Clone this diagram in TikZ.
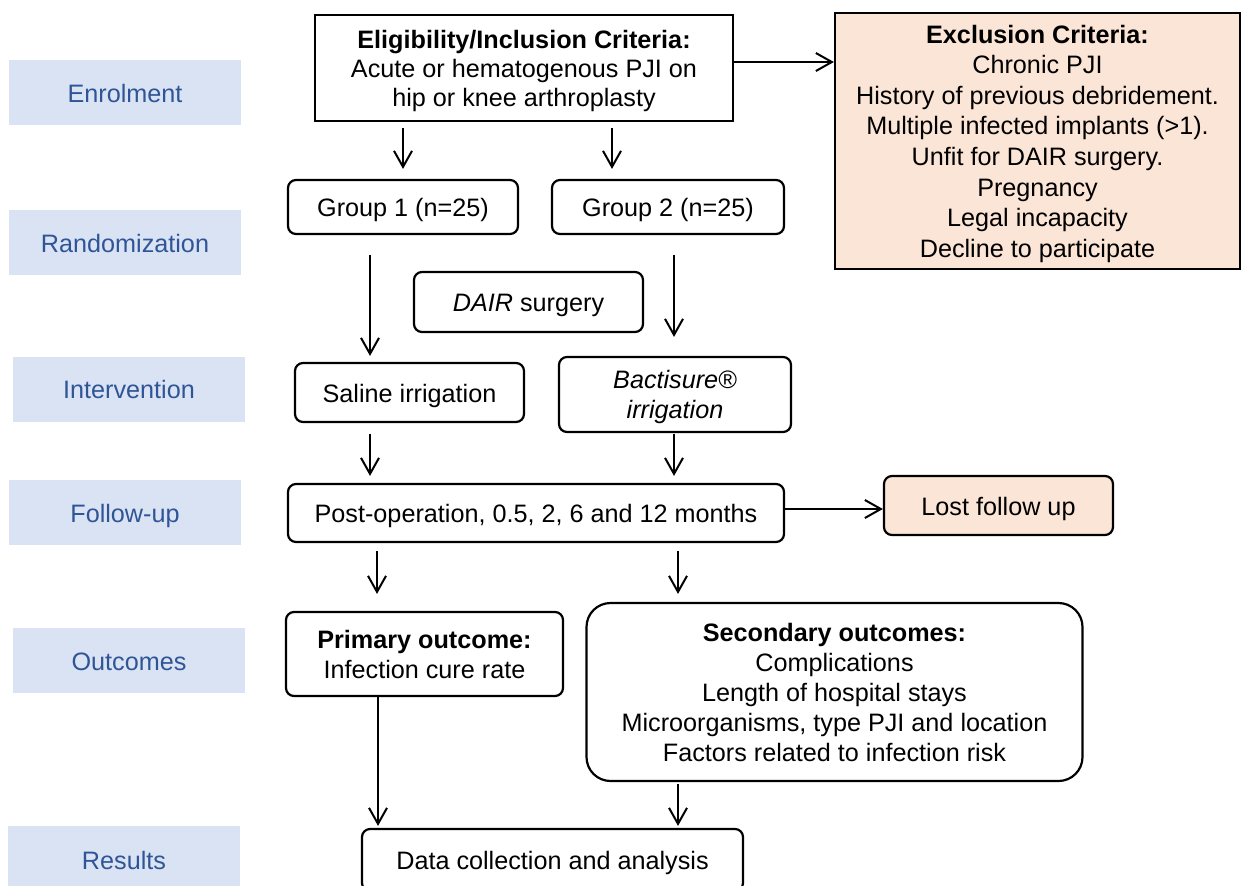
\documentclass[tikz,border=0pt]{standalone}
\usepackage{fontspec}
\setmainfont{Liberation Sans}
\usepackage{xcolor}
\usetikzlibrary{arrows.meta}
\usetikzlibrary{calc}
\definecolor{peach}{HTML}{FBE5D6}
\definecolor{phasefill}{HTML}{DAE3F3}
\definecolor{phasetext}{HTML}{2F5597}
\tikzset{>={Straight Barb[length=8pt,width=9pt]}}
\tikzset{
  box/.style={draw, line width=1.1pt, align=center, inner sep=2pt,
    font=\fontsize{12.6}{15}\selectfont},
  rbox/.style={box, rounded corners=4pt},
  oneline/.style={text height=12pt, text depth=2.5pt},
  phase/.style={fill=phasefill, text=phasetext, inner sep=0pt, oneline,
    minimum width=116pt, minimum height=32.5pt,
    font=\fontsize{12.6}{15}\selectfont},
  arr/.style={->, line width=1pt}
}
\begin{document}
\begin{tikzpicture}[x=0.5pt, y=-0.5pt]
      \useasboundingbox (0,0) rectangle (1242,885);
      \node[phase] (enr) at (125,92.5) {Enrolment};
      \node[phase] (rnd) at (125,242.5) {Randomization};
      \node[phase] (itv) at (129,389) {Intervention};
      \node[phase] (fol) at (125,512.5) {Follow-up};
      \node[phase] (outc) at (129,660.5) {Outcomes};
      \node[phase, minimum height=34pt] (res) at (124,860) {Results};
      \node[box, minimum width=209pt, minimum height=53pt, text depth=-3pt,
        font=\fontsize{12.6}{14.5}\selectfont] (elig) at (524,68)
        {\textbf{Eligibility/Inclusion Criteria:}\\Acute or hematogenous PJI on\\hip or knee arthroplasty};
      \node[box, fill=peach, minimum width=202.5pt, minimum height=128pt, text depth=-0.4pt,
        font=\fontsize{12.6}{15.3}\selectfont] (excl) at (1037.5,141)
        {\textbf{Exclusion Criteria:}\\Chronic PJI\\History of previous debridement.\\Multiple infected implants (>1).\\Unfit for DAIR surgery.\\Pregnancy\\Legal incapacity\\Decline to participate};
      \node[rbox, oneline, minimum width=115pt, minimum height=27pt] (g1) at (403,207) {Group 1 (n=25)};
      \node[rbox, oneline, minimum width=116pt, minimum height=27pt] (g2) at (668,207) {Group 2 (n=25)};
      \node[rbox, oneline, minimum width=114.5pt, minimum height=30pt] (dair) at (528.5,302) {\textit{DAIR} surgery};
      \node[rbox, oneline, minimum width=114.5pt, minimum height=29.5pt] (sal) at (409.5,392.5) {Saline irrigation};
      \node[rbox, minimum width=116pt, minimum height=37.5pt, text depth=0pt] (bac) at (675,394.5) {\textit{Bactisure®}\\\textit{irrigation}};
      \node[rbox, oneline, minimum width=248pt, minimum height=29pt] (post) at (536,513) {Post-operation, 0.5, 2, 6 and 12 months};
      \node[rbox, oneline, fill=peach, minimum width=114.5pt, minimum height=29.5pt] (lost) at (998.5,505.5) {Lost follow up};
      \node[rbox, minimum width=138.5pt, minimum height=42pt] (prim) at (424.5,654)
        {\textbf{Primary outcome:}\\Infection cure rate};
      \node[box, rounded corners=12pt, minimum width=248pt, minimum height=89pt] (sec) at (834.5,692)
        {\textbf{Secondary outcomes:}\\Complications\\Length of hospital stays\\Microorganisms, type PJI and location\\Factors related to infection risk};
      \node[rbox, oneline, minimum width=190.5pt, minimum height=31pt] (data) at (552.5,860) {Data collection and analysis};
      \draw[arr] ($(elig.east)+(0,-6)$) -- ($(elig.east -| excl.west)+(0,-6)$);
      \draw[arr] ($(g1.north |- elig.south)+(0,6)$) -- ($(g1.north)+(0,-10)$);
      \draw[arr] ($(g2.north |- elig.south)+(-56,6)$) -- ($(g2.north)+(-56,-10)$);
      \draw[arr] ($(g1.south)+(-33,20)$) -- ($(g1.south |- sal.north)+(-33,-6)$);
      \draw[arr] ($(g2.south)+(6,20)$) -- ($(g2.south |- bac.north)+(6,-19)$);
      \draw[arr] ($(sal.south)+(-39.5,11)$) -- ($(sal.south |- post.north)+(-39.5,-7)$);
      \draw[arr] ($(bac.south)+(-1,1)$) -- ($(bac.south |- post.north)+(-1,-7)$);
      \draw[arr] ($(post.east)+(0,-4)$) -- ($(post.east -| lost.west)+(0,-4)$);
      \draw[arr] ($(prim.north |- post.south)+(-47.5,8)$) -- ($(prim.north)+(-47.5,-17)$);
      \draw[arr] ($(sec.north |- post.south)+(-156.5,8)$) -- ($(sec.north)+(-156.5,-8)$);
      \draw[arr] ($(prim.south)+(-46.5,0)$) -- ($(prim.south |- data.north)+(-46.5,-2)$);
      \draw[arr] ($(sec.south)+(-156.5,2)$) -- ($(sec.south |- data.north)+(-156.5,-2)$);
    \end{tikzpicture}
\end{document}
